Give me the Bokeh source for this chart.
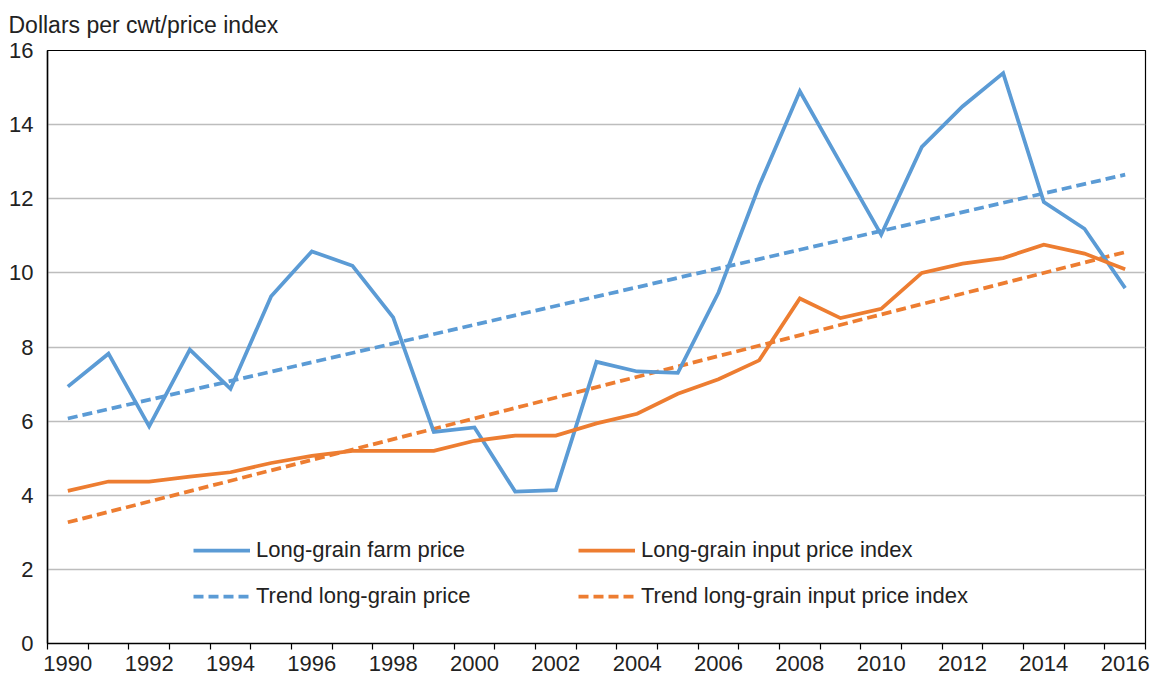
from bokeh.plotting import figure
from bokeh.models import (FixedTicker, Range1d, Legend, LegendItem, Title)
from bokeh.embed import file_html
from bokeh.resources import INLINE

years = list(range(1990, 2017))
farm_price = [6.93, 7.82, 5.86, 7.93, 6.87, 9.37, 10.58, 10.19, 8.80, 5.71,
              5.83, 4.10, 4.14, 7.60, 7.34, 7.30, 9.47, 12.35, 14.90, 12.96,
              11.03, 13.40, 14.49, 15.39, 11.91, 11.19, 9.59]
input_index = [4.12, 4.37, 4.37, 4.50, 4.62, 4.87, 5.06, 5.20, 5.20, 5.20,
               5.47, 5.61, 5.61, 5.94, 6.20, 6.74, 7.13, 7.64, 9.31, 8.78,
               9.03, 10.00, 10.25, 10.40, 10.76, 10.52, 10.10]
trend_years = [1990, 2016]
trend_price = [6.07, 12.65]
trend_input = [3.27, 10.56]

even_years = list(range(1990, 2017, 2))
boundaries = [y - 0.5 for y in range(1990, 2018)]
y_ticks = list(range(0, 17, 2))

BLUE = "#5B9BD5"
ORANGE = "#ED7D31"
FONT = "Liberation Sans"
TXT = "#222222"

p = figure(width=1150, height=679, output_backend="svg", toolbar_location=None,
           x_range=Range1d(1989.5, 2016.5), y_range=Range1d(0, 16),
           min_border_left=47, min_border_right=5, min_border_top=6,
           min_border_bottom=36)

p.title = Title(text="Dollars per cwt/price index", align="left", offset=-39,
                text_font=FONT, text_font_size="23px", text_font_style="normal",
                text_color=TXT, standoff=22, vertical_align="top")

p.outline_line_color = "black"
p.outline_line_width = 1.2
p.background_fill_color = "white"
p.border_fill_color = "white"

# axes
p.xaxis.ticker = FixedTicker(ticks=even_years, minor_ticks=boundaries)
p.xaxis.major_tick_out = 0
p.xaxis.major_tick_in = 0
p.xaxis.minor_tick_out = 6
p.xaxis.minor_tick_in = 0
p.xaxis.minor_tick_line_color = "black"
p.xaxis.minor_tick_line_width = 1.2
p.xaxis.axis_line_color = "black"
p.xaxis.axis_line_width = 1.5
p.xaxis.major_label_text_font = FONT
p.xaxis.major_label_text_font_size = "22px"
p.xaxis.major_label_text_color = TXT
p.xaxis.major_label_standoff = 6

p.yaxis.ticker = FixedTicker(ticks=y_ticks)
p.yaxis.major_tick_out = 0
p.yaxis.major_tick_in = 0
p.yaxis.minor_tick_out = 0
p.yaxis.minor_tick_in = 0
p.yaxis.axis_line_color = "black"
p.yaxis.axis_line_width = 1.5
p.yaxis.major_label_text_font = FONT
p.yaxis.major_label_text_font_size = "22px"
p.yaxis.major_label_text_color = TXT
p.yaxis.major_label_standoff = 14

p.xgrid.grid_line_color = None
p.ygrid.grid_line_color = "#BDBDBD"
p.ygrid.grid_line_width = 1.3

r_tp = p.line(trend_years, trend_price, line_color=BLUE, line_width=3.75,
              line_dash="10 5")
r_ti = p.line(trend_years, trend_input, line_color=ORANGE, line_width=3.75,
              line_dash="10 5")
r_fp = p.line(years, farm_price, line_color=BLUE, line_width=3.75,
              line_join="miter")
r_ii = p.line(years, input_index, line_color=ORANGE, line_width=3.75,
              line_join="miter")

def make_legend(items, loc):
    lg = Legend(items=items, orientation="horizontal", location=loc,
                label_text_font=FONT, label_text_font_size="22px",
                label_text_color=TXT, glyph_width=57, glyph_height=22,
                label_standoff=6, label_width=240, label_height=22,
                spacing=82, padding=0, margin=0,
                border_line_alpha=0, background_fill_alpha=0)
    return lg

leg1 = make_legend([LegendItem(label="Long-grain farm price", renderers=[r_fp]),
                    LegendItem(label="Long-grain input price index", renderers=[r_ii])],
                   (146, 80))
leg2 = make_legend([LegendItem(label="Trend long-grain price", renderers=[r_tp]),
                    LegendItem(label="Trend long-grain input price index", renderers=[r_ti])],
                   (146, 34))
p.add_layout(leg1, "center")
p.add_layout(leg2, "center")

open("out.html", "w").write(file_html(p, INLINE))
